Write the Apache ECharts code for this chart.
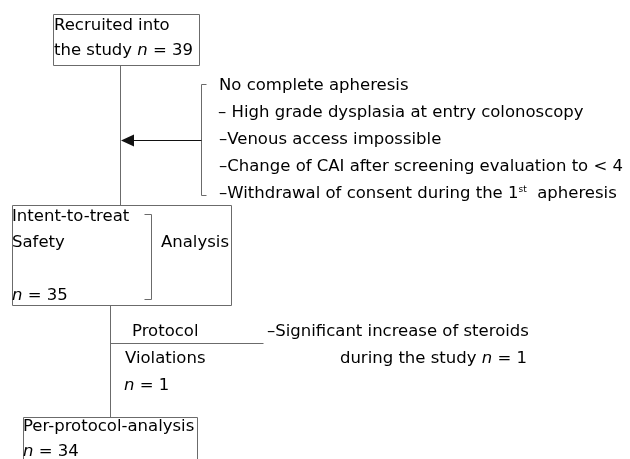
<!DOCTYPE html>
<html>
<head>
<meta charset="utf-8">
<script src="https://cdn.jsdelivr.net/npm/echarts@6/dist/echarts.min.js"></script>
<style>
  html, body { margin: 0; padding: 0; background: #fff; }
  #chart { width: 630px; height: 459px; }
</style>
</head>
<body>
<div id="chart"></div>
<script>
// flowchart texts and counts ({i|..} = italic, {sup|..} = superscript)
const recruitedLabel = ['Recruited into', 'the study'];
const recruitedCount = 39;
const exclusionHeader = 'No complete apheresis';
const exclusionReasons = [
  '– High grade dysplasia at entry colonoscopy',
  '–Venous access impossible',
  '–Change of CAI after screening evaluation to < 4',
  '–Withdrawal of consent during the 1{sup|st}  apheresis'
];
const ittLabel = ['Intent-to-treat', 'Safety'];
const ittSide = 'Analysis';
const ittCount = 35;
const violationLabel = ['Protocol', 'Violations'];
const violationCount = 1;
const violationReasons = ['–Significant increase of steroids', 'during the study'];
const perProtocolLabel = 'Per-protocol-analysis';
const perProtocolCount = 34;

const nText = n => '{i|n} = ' + n;

// layout in page units (x right, y down)
const elements = [];
const box = (x1, y1, x2, y2) => elements.push({ kind: 'rect', p: [x1, y1, x2, y2] });
const seg = (pts, color) => elements.push({ kind: 'line', p: pts, color: color });
const txt = (x, y, s, align) => elements.push({ kind: 'text', p: [x, y], s: s, align: align || 'left' });

// recruited box
box(53, 14, 199, 65);
txt(54, 26, recruitedLabel[0]);
txt(54, 51, recruitedLabel[1] + ' ' + nText(recruitedCount));
seg([[120, 65], [120, 205]]);

// exclusions with bracket and arrow
seg([[206, 84], [201, 84], [201, 195], [206, 195]]);
seg([[201, 140], [130, 140]], '#111');
elements.push({ kind: 'arrow', p: [[121, 140], [134, 134], [134, 146]] });
txt(219, 86, exclusionHeader);
exclusionReasons.forEach((r, i) => txt(i === 0 ? 218 : 219, 113 + i * 27, r));

// intent-to-treat box
box(12, 205, 231, 305);
txt(12, 217, ittLabel[0]);
txt(12, 243, ittLabel[1]);
txt(12, 296, nText(ittCount));
seg([[144, 214], [151, 214], [151, 299], [144, 299]]);
txt(161, 243, ittSide);

// protocol violations
seg([[110, 305], [110, 417]]);
seg([[110, 343], [263, 343]]);
txt(132, 332, violationLabel[0]);
txt(125, 359, violationLabel[1]);
txt(124, 386, nText(violationCount));
txt(267, 332, violationReasons[0]);
txt(527, 359, violationReasons[1] + ' ' + nText(violationCount), 'right');

// per-protocol box
box(23, 417, 197, 480);
txt(23, 427, perProtocolLabel);
txt(23, 452, nText(perProtocolCount));

const font = '"DejaVu Sans", Verdana, sans-serif';
const fontSize = 16.5;
const textColor = '#000';
const lineColor = '#6b6b6b';

function renderItem(params, api) {
  const el = elements[params.dataIndex];
  const c = p => api.coord(p);
  if (el.kind === 'rect') {
    const a = c([el.p[0], el.p[1]]), b = c([el.p[2], el.p[3]]);
    return {
      type: 'rect',
      shape: { x: a[0] + 0.5, y: a[1] + 0.5, width: b[0] - a[0], height: b[1] - a[1] },
      style: { fill: 'none', stroke: lineColor, lineWidth: 1 }
    };
  }
  if (el.kind === 'line') {
    return {
      type: 'polyline',
      shape: { points: el.p.map(p => { const q = c(p); return [q[0] + 0.5, q[1] + 0.5]; }) },
      style: { fill: 'none', stroke: el.color || lineColor, lineWidth: 1 }
    };
  }
  if (el.kind === 'arrow') {
    return {
      type: 'polygon',
      shape: { points: el.p.map(p => { const q = c(p); return [q[0], q[1] + 0.5]; }) },
      style: { fill: '#111' }
    };
  }
  const q = c(el.p);
  return {
    type: 'text',
    x: q[0],
    y: q[1],
    style: {
      text: el.s,
      fill: textColor,
      fontFamily: font,
      fontSize: fontSize,
      align: el.align,
      verticalAlign: 'middle',
      rich: {
        i: { fontStyle: 'italic', fontFamily: font, fontSize: fontSize, fill: textColor },
        sup: { fontSize: 9, fontFamily: font, fill: textColor, verticalAlign: 'top', padding: [0, 0, 9, 0] }
      }
    }
  };
}

const chart = echarts.init(document.getElementById('chart'));
chart.setOption({
  animation: false,
  grid: { left: 0, right: 0, top: 0, bottom: 0 },
  xAxis: { type: 'value', min: 0, max: 630, show: false },
  yAxis: { type: 'value', min: 0, max: 459, inverse: true, show: false },
  series: [{
    type: 'custom',
    clip: false,
    renderItem: renderItem,
    data: elements.map((e, i) => [i, 0])
  }]
});
</script>
</body>
</html>
